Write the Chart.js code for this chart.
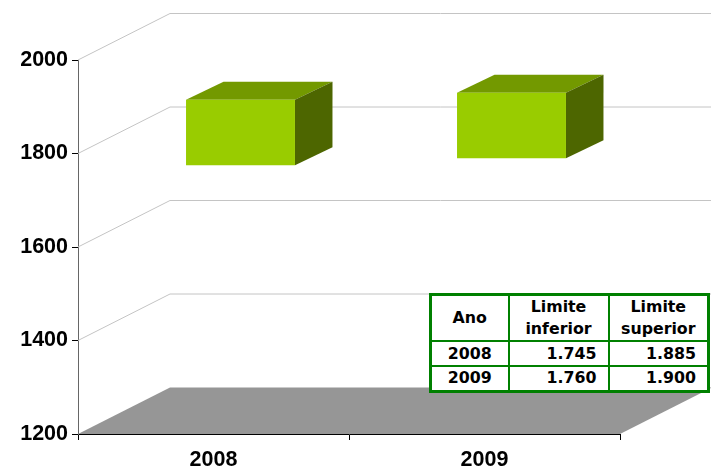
<!DOCTYPE html>
<html>
<head>
<meta charset="utf-8">
<script src="https://cdn.jsdelivr.net/npm/chart.js@4/dist/chart.umd.js"></script>
<style>
html,body{margin:0;padding:0;background:#fff;width:711px;height:471px;overflow:hidden}
#wrap{position:relative;width:711px;height:471px}
canvas{position:absolute;left:0;top:0}
table{position:absolute;left:429px;top:293px;width:281px;height:97px;box-sizing:border-box;border-collapse:collapse;table-layout:fixed;background:#fff;font:bold 15.8px "DejaVu Sans",sans-serif;color:#000;border:3px solid #008000}
td{border:2px solid #008000;padding:0;text-align:center;line-height:22px;white-space:nowrap}
td.n{text-align:right;padding-right:11px}
</style>
</head>
<body>
<div id="wrap">
<canvas id="c" width="711" height="471"></canvas>
<table id="t"><colgroup><col style="width:78px"><col style="width:100px"><col style="width:100px"></colgroup><tbody></tbody></table>
</div>
<script>
const categories = ["2008", "2009"];
const lowerLimits = [1745, 1760];
const upperLimits = [1885, 1900];
const yTicks = [1200, 1400, 1600, 1800, 2000];
const tableHeader = ["Ano", "Limite<br>inferior", "Limite<br>superior"];
const fmt = v => String(v).replace(/(\d)(\d{3})$/, "$1.$2");

const tbody = document.querySelector("#t tbody");
tbody.innerHTML = "<tr style='height:44px'>" + tableHeader.map(h => "<td>" + h + "</td>").join("") + "</tr>" +
  categories.map((c, i) => "<tr style='height:25px'><td>" + c + "</td><td class='n'>" + fmt(lowerLimits[i]) +
    "</td><td class='n'>" + fmt(upperLimits[i]) + "</td></tr>").join("");

const WALL = {dx: 92, dy: -46.5, right: 711};
const BAR = {ox: 27, oy: -14, dx: 37.5, dy: -18};

const poly = (ctx, pts, fill) => {
  ctx.beginPath();
  pts.forEach((p, i) => i ? ctx.lineTo(p[0], p[1]) : ctx.moveTo(p[0], p[1]));
  ctx.closePath();
  ctx.fillStyle = fill;
  ctx.fill();
};

const threeD = {
  id: "threeD",
  beforeDatasetsDraw(chart) {
    const {ctx, scales: {x, y}} = chart;
    ctx.save();
    ctx.strokeStyle = "#c4c4c4";
    ctx.lineWidth = 1;
    yTicks.slice(1).forEach(v => {
      const py = y.getPixelForValue(v);
      ctx.beginPath();
      ctx.moveTo(x.left, py);
      ctx.lineTo(x.left + WALL.dx, py + WALL.dy);
      ctx.lineTo(WALL.right, py + WALL.dy);
      ctx.stroke();
    });
    const by = y.getPixelForValue(yTicks[0]);
    poly(ctx, [[x.left, by], [x.left + WALL.dx, by + WALL.dy], [x.right + WALL.dx, by + WALL.dy], [x.right, by]], "#969696");
    ctx.restore();
  },
  beforeDatasetDraw(chart, args) {
    const {ctx} = chart;
    ctx.save();
    ctx.translate(BAR.ox, BAR.oy);
    chart.getDatasetMeta(args.index).data.forEach(b => {
      const p = b.getProps(["x", "y", "base", "width"], true);
      const l = p.x - p.width / 2, r = p.x + p.width / 2;
      poly(ctx, [[l, p.y], [l + BAR.dx, p.y + BAR.dy], [r + BAR.dx, p.y + BAR.dy], [r, p.y]], "#739900");
      poly(ctx, [[r, p.y], [r + BAR.dx, p.y + BAR.dy], [r + BAR.dx, p.base + BAR.dy], [r, p.base]], "#4d6600");
    });
  },
  afterDatasetDraw(chart) {
    chart.ctx.restore();
  }
};

new Chart(document.getElementById("c"), {
  type: "bar",
  data: {
    labels: categories,
    datasets: [{
      data: categories.map((c, i) => [lowerLimits[i], upperLimits[i]]),
      backgroundColor: "#99cc00",
      borderWidth: 0,
      barPercentage: 1,
      categoryPercentage: 0.402
    }]
  },
  plugins: [threeD],
  options: {
    responsive: false,
    animation: false,
    layout: {padding: {left: 0, right: 91, top: 60, bottom: 0}},
    plugins: {legend: {display: false}, tooltip: {enabled: false}},
    scales: {
      x: {
        afterFit: s => { s.height = 37; },
        grid: {offset: true, drawOnChartArea: false, tickLength: 6, tickColor: "#000", tickWidth: 1},
        border: {color: "#000", width: 1},
        ticks: {color: "#000", padding: 7, font: {family: "Liberation Sans", weight: "bold", size: 21.5}, maxRotation: 0}
      },
      y: {
        min: yTicks[0],
        max: yTicks[yTicks.length - 1],
        afterFit: s => { s.width = 78; },
        afterBuildTicks: s => { s.ticks = yTicks.map(v => ({value: v})); },
        grid: {drawOnChartArea: false, tickLength: 6, tickColor: "#000", tickWidth: 1},
        border: {color: "#666", width: 1},
        ticks: {color: "#000", padding: 4, font: {family: "Liberation Sans", weight: "bold", size: 21.5}, callback: v => String(v)}
      }
    }
  }
});
</script>
</body>
</html>
